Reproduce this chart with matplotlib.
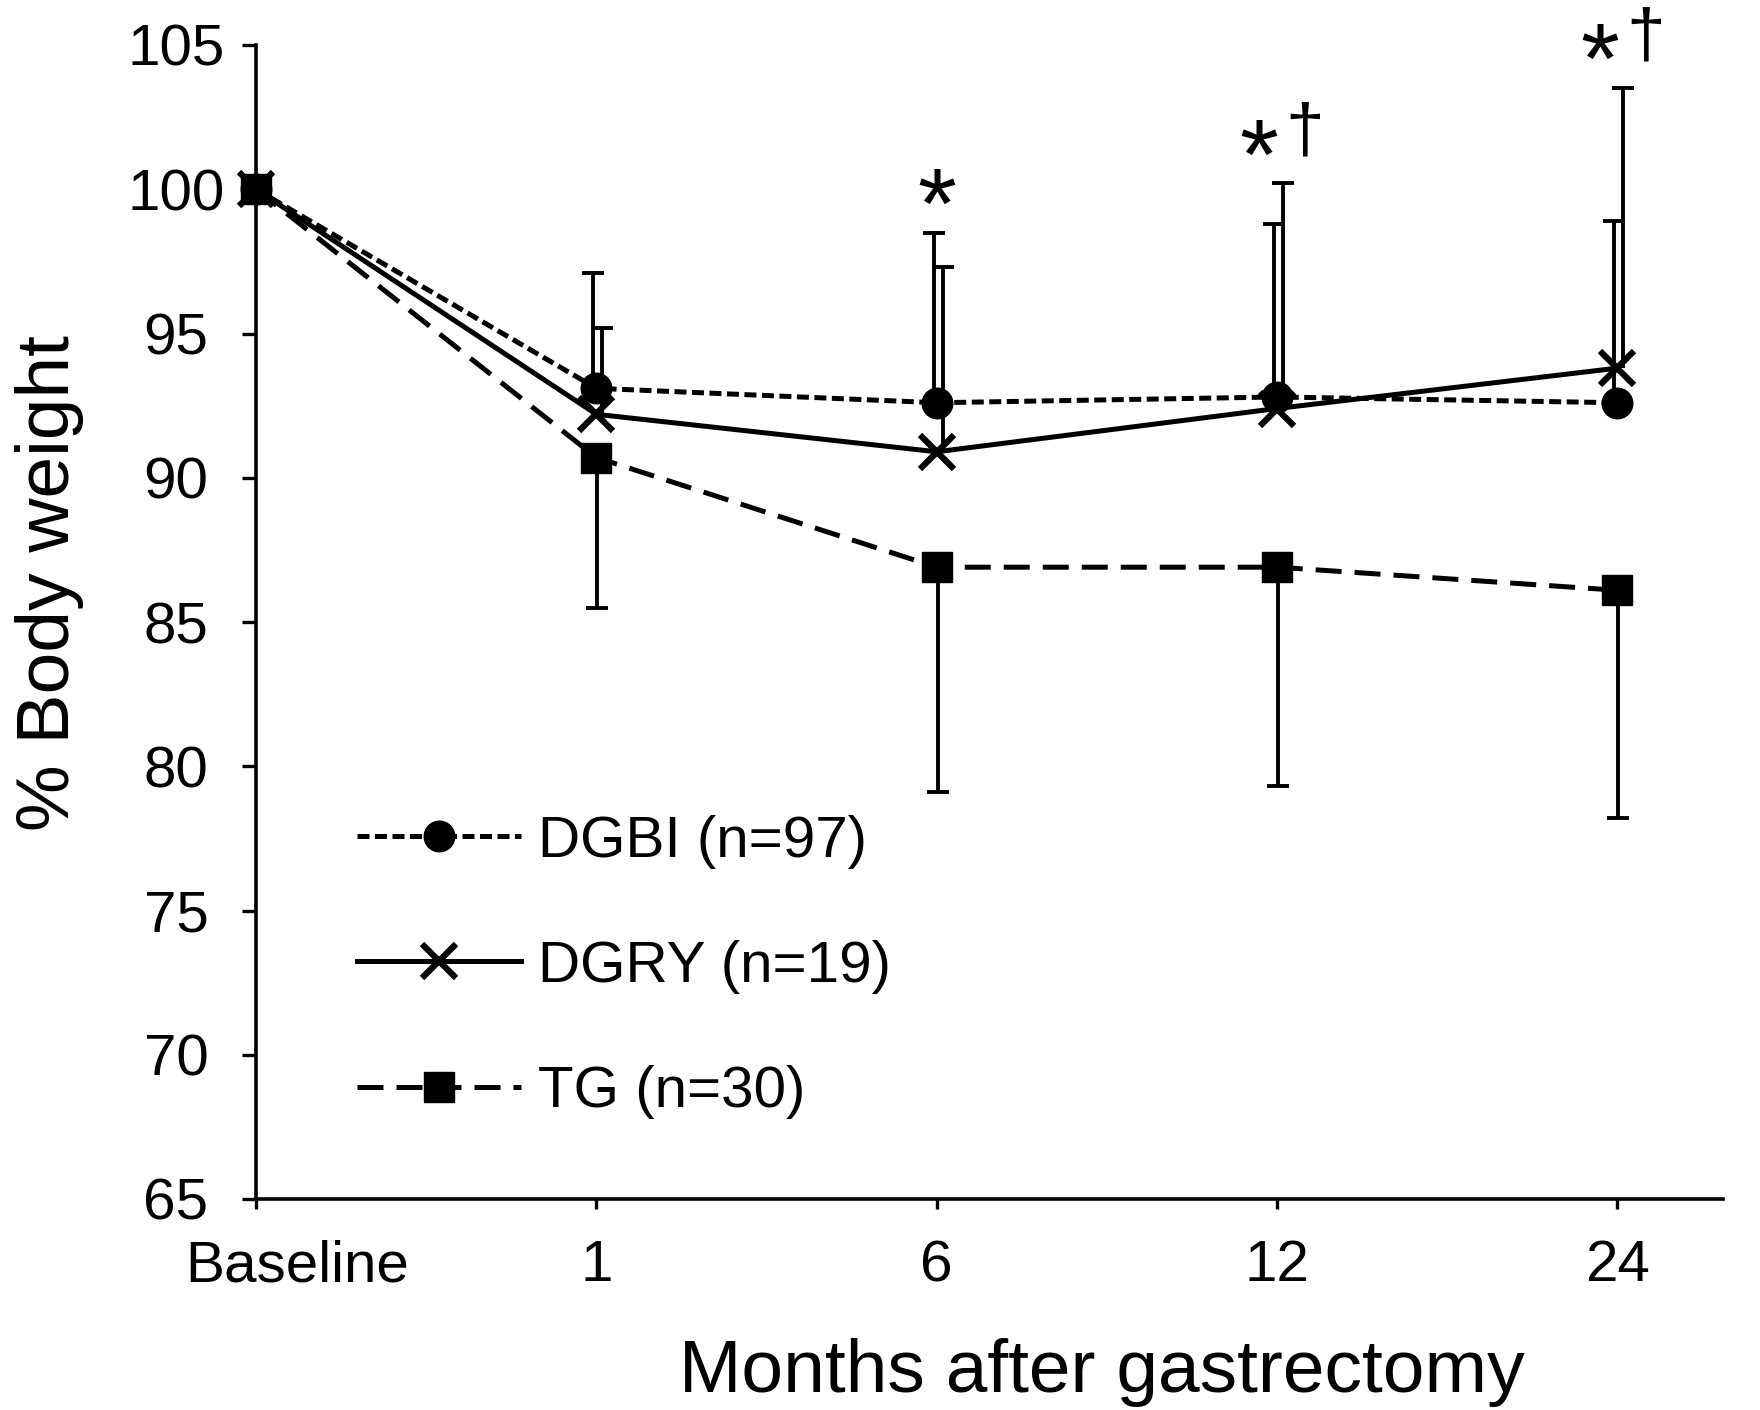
import numpy as np
import matplotlib
matplotlib.use("Agg")
import matplotlib.pyplot as plt
from matplotlib.transforms import ScaledTranslation

# categories on the x axis
months = ["Baseline", "1", "6", "12", "24"]

# mean % body weight and one-sided SD bars
dgbi_mean = [100, 93.1, 92.6, 92.8, 92.6]
dgbi_sd = [0, 4.0, 5.9, 6.0, 6.3]
dgry_mean = [100, 92.2, 90.9, 92.4, 93.8]
dgry_sd = [0, 3.0, 6.4, 7.8, 9.7]
tg_mean = [100, 90.7, 86.9, 86.9, 86.1]
tg_sd = [0, 5.2, 7.8, 7.6, 7.9]

# significance marks per time point
star = [False, False, True, True, True]
dagger = [False, False, False, True, True]

plt.rcParams['font.family'] = ['Liberation Sans', 'DejaVu Sans']

fig = plt.figure(figsize=(17.6, 14.1), dpi=100)
ax = fig.add_axes([256 / 1760, 1 - 1199 / 1410, (1723 - 256) / 1760, (1199 - 45) / 1410])
x = np.arange(len(months))


def shift(px):
    return ax.transData + ScaledTranslation(px / 100, 0, fig.dpi_scale_trans)


def draw_err(mean, sd, up, dx):
    m = np.array(mean[1:])
    s = np.array(sd[1:])
    end = m + s if up else m - s
    ax.vlines(x[1:], m, end, color='black', lw=2.8, transform=shift(dx), zorder=2)
    ax.plot(x[1:], end, ls='none', marker='_', ms=16, mew=2.8, color='black',
            transform=shift(dx), zorder=2, clip_on=False)
    return end


top_bi = draw_err(dgbi_mean, dgbi_sd, True, -3)
top_ry = draw_err(dgry_mean, dgry_sd, True, 6)
draw_err(tg_mean, tg_sd, False, 1)

ax.plot(x, dgbi_mean, color='black', lw=3.6, ls=(0, (2.4, 1.1)), marker='o', ms=22,
        label='DGBI (n=97)', zorder=3, clip_on=False)
ax.plot(x, dgry_mean, color='black', lw=3.6, ls='-', marker='x', ms=24, mew=4.5,
        label='DGRY (n=19)', zorder=3, clip_on=False)
ax.plot(x, tg_mean, color='black', lw=3.6, ls=(0, (5.2, 2.6)), marker='s', ms=21,
        label='TG (n=30)', zorder=3, clip_on=False)

# significance symbols above the highest bar
tops = np.maximum(top_bi, top_ry)
for i in range(1, len(months)):
    t = tops[i - 1]
    if star[i]:
        ax.annotate('*', (x[i], t), xytext=(-18 if dagger[i] else 0, -5),
                    textcoords='offset pixels', ha='center', va='baseline',
                    fontsize=72, annotation_clip=False)
    if dagger[i]:
        ax.annotate('\u2020', (x[i], t), xytext=(28, 32), textcoords='offset pixels',
                    ha='center', va='baseline', fontsize=50, annotation_clip=False)

ax.set_xlim(0, 4.31)
ax.set_ylim(65, 105)
ax.set_yticks(np.arange(65, 106, 5))
ax.set_xticks(x)
ax.set_xticklabels(months)
for s in ['top', 'right']:
    ax.spines[s].set_visible(False)
for s in ['left', 'bottom']:
    ax.spines[s].set_linewidth(2.6)
ax.tick_params(axis='y', length=10, width=2.4, pad=47.6, labelsize=42, direction='out')
ax.tick_params(axis='x', length=7, width=2.4, pad=22, labelsize=42, direction='out')
for lab in ax.get_yticklabels():
    lab.set_ha('center')
first = ax.get_xticklabels()[0]
first.set_transform(first.get_transform() + ScaledTranslation(0.41, 0, fig.dpi_scale_trans))

ax.legend(loc='upper left', bbox_to_anchor=(0.069, 0.333), frameon=False, fontsize=42,
          handlelength=2.8, handletextpad=0.3, labelspacing=1.22, borderpad=0,
          borderaxespad=0, numpoints=1)

fig.text(1102 / 1760, 18 / 1410, "Months after gastrectomy", fontsize=54,
         ha='center', va='baseline')
fig.text(50 / 1760, 1 - 583 / 1410, "% Body weight", fontsize=54, rotation=90,
         ha='center', va='center')

fig.savefig("out.png", dpi=100)
